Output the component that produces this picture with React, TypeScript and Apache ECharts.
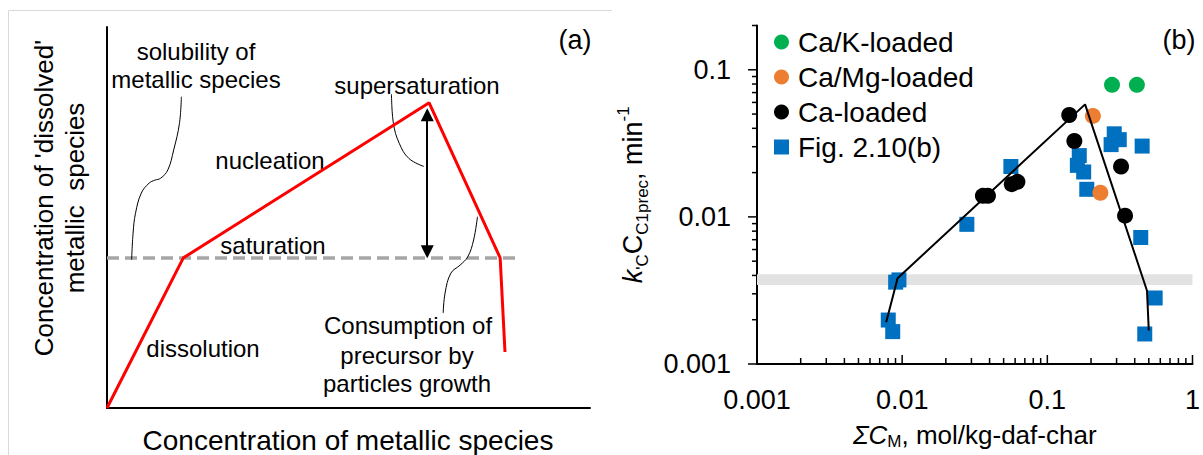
import React, { useEffect, useRef } from 'react';
import * as echarts from 'echarts';

const FONT = "'Liberation Sans', Arial, Helvetica, sans-serif";

// ---------- Panel (a): schematic concentration profile (arbitrary units, 0–100) ----------
const profileX = [0, 15.8, 66.7, 81.4, 82.4];
const profileY = [0, 39.4, 80.1, 39.4, 14.7];
const saturationLevel = 39.4;
const saturationSpan = [0, 85.1];
const supersatArrowX = 66.3;
const supersatArrowEnds = [41.0, 77.0];

// thin leader lines from the annotations to the curve
const solubilityLeaderX = [15.4, 15.0, 13.8, 12.6, 11.1, 9.9, 8.7, 7.1, 5.9, 5.4, 5.1];
const solubilityLeaderY = [81.7, 74.7, 67.7, 62.5, 60.3, 59.8, 59.0, 56.4, 51.1, 45.9, 38.9];
const supersatLeaderX = [58.9, 59.3, 60.5, 62.5, 65.6];
const supersatLeaderY = [82.4, 74.7, 69.5, 65.5, 63.4];
const consumptionLeaderX = [69.6, 70.0, 71.2, 73.1, 74.7, 75.9, 76.7];
const consumptionLeaderY = [24.9, 30.2, 35.4, 37.5, 39.7, 44.1, 50.2];

// ---------- Panel (b): rate vs. total metal concentration ----------
const caKX = [0.279, 0.414];
const caKY = [0.079, 0.079];
const caMgX = [0.206, 0.232];
const caMgY = [0.0486, 0.0146];
const caX = [0.036, 0.039, 0.0569, 0.0622, 0.1415, 0.1535, 0.322, 0.343];
const caY = [0.0139, 0.0139, 0.0167, 0.0173, 0.0493, 0.0328, 0.022, 0.0102];
const figX = [0.00802, 0.00861, 0.00902, 0.0095, 0.0279, 0.0561, 0.161, 0.166, 0.178, 0.187, 0.275, 0.289, 0.313, 0.45, 0.44, 0.553, 0.469];
const figY = [0.00199, 0.00166, 0.0036, 0.00373, 0.0089, 0.022, 0.0224, 0.0261, 0.0202, 0.0154, 0.031, 0.0367, 0.0335, 0.0303, 0.00724, 0.00281, 0.0016];
const trendX = [0.00776, 0.0093, 0.182, 0.486, 0.5];
const trendY = [0.00192, 0.00383, 0.0582, 0.00315, 0.00169];
const bandRange = [0.00345, 0.00407];

const xRangeB = [0.001, 1];
const yRangeB = [0.001, 0.2];
const xMajorTicks = [0.001, 0.01, 0.1, 1];
const xMinorTicks = [
  0.002, 0.003, 0.004, 0.005, 0.006, 0.007, 0.008, 0.009,
  0.02, 0.03, 0.04, 0.05, 0.06, 0.07, 0.08, 0.09,
  0.2, 0.3, 0.4, 0.5, 0.6, 0.7, 0.8, 0.9,
];
const yMajorTicks = [0.001, 0.01, 0.1];
const yMinorTicks = [
  0.002, 0.003, 0.004, 0.005, 0.006, 0.007, 0.008, 0.009,
  0.02, 0.03, 0.04, 0.05, 0.06, 0.07, 0.08, 0.09,
  0.2,
];

const zip = (xs: number[], ys: number[]) => xs.map((x, i) => [x, ys[i]]);

const decadeLabel = (v: number) => {
  const e = Math.log10(v);
  const r = Math.round(e);
  return Math.abs(e - r) < 1e-6 ? String(Number(Math.pow(10, r).toPrecision(1))) : '';
};

function leader(xs: number[], ys: number[]) {
  return {
    type: 'line',
    xAxisIndex: 0,
    yAxisIndex: 0,
    data: zip(xs, ys),
    smooth: 0.4,
    symbol: 'none',
    lineStyle: { color: '#000', width: 1 },
    z: 2,
    silent: true,
  };
}

function textEl(text: string, x: number, y: number, fontSize: number, extra: any = {}) {
  return {
    type: 'text',
    x,
    y,
    silent: true,
    ...extra,
    style: {
      text,
      fontSize,
      fontFamily: FONT,
      fill: '#000',
      align: 'center',
      verticalAlign: 'middle',
      ...(extra.style || {}),
    },
  };
}

function buildOption(): any {
  const labelA = 24;
  const bFont = 27;

  const xTickData = [
    ...xMajorTicks.map((v) => [v, yRangeB[0], 1]),
    ...xMinorTicks.map((v) => [v, yRangeB[0], 0]),
  ];
  const yTickData = [
    ...yMajorTicks.map((v) => [xRangeB[0], v, 1]),
    ...yMinorTicks.map((v) => [xRangeB[0], v, 0]),
  ];

  const scatterBase = {
    type: 'scatter',
    xAxisIndex: 1,
    yAxisIndex: 1,
    z: 3,
  };

  return {
    animation: false,
    backgroundColor: '#fff',
    textStyle: { fontFamily: FONT },
    grid: [
      { left: 107, top: 27, width: 483, height: 381 },
      { left: 757, top: 25.5, width: 436, height: 346.2 },
    ],
    xAxis: [
      {
        gridIndex: 0,
        type: 'value',
        min: 0,
        max: 100,
        axisLine: { onZero: false, lineStyle: { color: '#000', width: 2 } },
        axisTick: { show: false },
        axisLabel: { show: false },
        splitLine: { show: false },
      },
      {
        gridIndex: 1,
        type: 'log',
        logBase: 10,
        min: xRangeB[0],
        max: xRangeB[1],
        axisLine: { onZero: false, lineStyle: { color: '#000', width: 2 } },
        axisTick: { show: false },
        splitLine: { show: false },
        axisLabel: {
          formatter: decadeLabel,
          fontSize: bFont,
          fontFamily: FONT,
          color: '#000',
          margin: 22,
          showMinLabel: true,
          showMaxLabel: true,
        },
        name: '{it|ΣC}{sb|M}{rm|, mol/kg-daf-char}',
        nameLocation: 'middle',
        nameGap: 56,
        nameTextStyle: {
          color: '#000',
          fontFamily: FONT,
          fontSize: 26,
          rich: {
            it: { fontSize: 26, fontStyle: 'italic', fontFamily: FONT, color: '#000', lineHeight: 30 },
            rm: { fontSize: 26, fontFamily: FONT, color: '#000', lineHeight: 30 },
            sb: { fontSize: 17, fontFamily: FONT, color: '#000', lineHeight: 14, verticalAlign: 'bottom' },
          },
        },
      },
    ],
    yAxis: [
      {
        gridIndex: 0,
        type: 'value',
        min: 0,
        max: 100,
        axisLine: { show: true, onZero: false, lineStyle: { color: '#000', width: 2 } },
        axisTick: { show: false },
        axisLabel: { show: false },
        splitLine: { show: false },
      },
      {
        gridIndex: 1,
        type: 'log',
        logBase: 10,
        min: yRangeB[0],
        max: yRangeB[1],
        axisLine: { show: true, onZero: false, lineStyle: { color: '#000', width: 2 } },
        axisTick: { show: false },
        splitLine: { show: false },
        axisLabel: {
          formatter: decadeLabel,
          fontSize: bFont,
          fontFamily: FONT,
          color: '#000',
          margin: 26,
        },
        name: "{it|k}{sb|'C}{rm|C}{sb|C1prec}{rm|, min}{sp|-1}",
        nameLocation: 'middle',
        nameRotate: 90,
        nameGap: 106,
        nameTextStyle: {
          color: '#000',
          fontFamily: FONT,
          fontSize: 27,
          rich: {
            it: { fontSize: 27, fontStyle: 'italic', fontFamily: FONT, color: '#000', lineHeight: 36 },
            rm: { fontSize: 27, fontFamily: FONT, color: '#000', lineHeight: 36 },
            sb: { fontSize: 17, fontFamily: FONT, color: '#000', lineHeight: 14, verticalAlign: 'bottom' },
            sp: { fontSize: 17, fontFamily: FONT, color: '#000', lineHeight: 17, verticalAlign: 'top' },
          },
        },
      },
    ],
    legend: {
      data: ['Ca/K-loaded', 'Ca/Mg-loaded', 'Ca-loaded', 'Fig. 2.10(b)'],
      orient: 'vertical',
      left: 769,
      top: 23,
      itemWidth: 15,
      itemHeight: 15,
      itemGap: 7,
      selectedMode: false,
      textStyle: {
        fontSize: 28,
        fontFamily: FONT,
        color: '#000',
        lineHeight: 28,
        padding: [0, 0, 0, 4],
      },
    },
    series: [
      // ----- panel (a) -----
      {
        type: 'line',
        xAxisIndex: 0,
        yAxisIndex: 0,
        data: [
          [saturationSpan[0], saturationLevel],
          [saturationSpan[1], saturationLevel],
        ],
        symbol: 'none',
        lineStyle: { color: '#a6a6a6', width: 3.5, type: [12, 6] },
        z: 1,
        silent: true,
      },
      {
        type: 'line',
        xAxisIndex: 0,
        yAxisIndex: 0,
        data: zip(profileX, profileY),
        symbol: 'none',
        lineStyle: { color: '#ff0000', width: 3 },
        z: 3,
        silent: true,
      },
      leader(solubilityLeaderX, solubilityLeaderY),
      leader(supersatLeaderX, supersatLeaderY),
      leader(consumptionLeaderX, consumptionLeaderY),
      {
        type: 'lines',
        coordinateSystem: 'cartesian2d',
        xAxisIndex: 0,
        yAxisIndex: 0,
        symbol: ['triangle', 'triangle'],
        symbolSize: 13,
        lineStyle: { color: '#000', width: 2, opacity: 1 },
        data: [
          {
            coords: [
              [supersatArrowX, supersatArrowEnds[0]],
              [supersatArrowX, supersatArrowEnds[1]],
            ],
          },
        ],
        z: 4,
        silent: true,
      },
      // ----- panel (b) -----
      {
        type: 'line',
        xAxisIndex: 1,
        yAxisIndex: 1,
        data: [],
        symbol: 'none',
        z: 1,
        silent: true,
        markArea: {
          silent: true,
          itemStyle: { color: '#e2e2e2' },
          data: [[{ yAxis: bandRange[0] }, { yAxis: bandRange[1] }]],
        },
      },
      {
        type: 'custom',
        xAxisIndex: 1,
        yAxisIndex: 1,
        data: xTickData,
        clip: false,
        silent: true,
        z: 5,
        renderItem: (params: any, api: any) => {
          const p = api.coord([api.value(0), api.value(1)]);
          const len = api.value(2) === 1 ? 9 : 6;
          return {
            type: 'line',
            shape: { x1: p[0], y1: p[1], x2: p[0], y2: p[1] - len },
            style: { stroke: '#000', lineWidth: 1.5 },
          };
        },
      },
      {
        type: 'custom',
        xAxisIndex: 1,
        yAxisIndex: 1,
        data: yTickData,
        clip: false,
        silent: true,
        z: 5,
        renderItem: (params: any, api: any) => {
          const p = api.coord([api.value(0), api.value(1)]);
          const len = api.value(2) === 1 ? 9 : 5;
          return {
            type: 'line',
            shape: { x1: p[0] - len, y1: p[1], x2: p[0], y2: p[1] },
            style: { stroke: '#000', lineWidth: 1.5 },
          };
        },
      },
      {
        ...scatterBase,
        name: 'Fig. 2.10(b)',
        symbol: 'rect',
        symbolSize: 15,
        itemStyle: { color: '#0070c0', opacity: 1 },
        data: zip(figX, figY),
        z: 2,
      },
      {
        ...scatterBase,
        name: 'Ca-loaded',
        symbol: 'circle',
        symbolSize: 16,
        itemStyle: { color: '#000000', opacity: 1 },
        data: zip(caX, caY),
      },
      {
        ...scatterBase,
        name: 'Ca/Mg-loaded',
        symbol: 'circle',
        symbolSize: 16,
        itemStyle: { color: '#ed7d31', opacity: 1 },
        data: zip(caMgX, caMgY),
      },
      {
        ...scatterBase,
        name: 'Ca/K-loaded',
        symbol: 'circle',
        symbolSize: 16,
        itemStyle: { color: '#00b050', opacity: 1 },
        data: zip(caKX, caKY),
      },
      {
        type: 'line',
        xAxisIndex: 1,
        yAxisIndex: 1,
        data: zip(trendX, trendY),
        symbol: 'none',
        lineStyle: { color: '#000', width: 2 },
        z: 4,
        silent: true,
      },
    ],
    graphic: [
      {
        type: 'polyline',
        silent: true,
        shape: { points: [[612, 10.5], [8.5, 10.5], [8.5, 455]] },
        style: { stroke: '#d9d9d9', lineWidth: 1, fill: 'none' },
      },
      textEl('solubility of', 196, 51, labelA),
      textEl('metallic species', 196, 79, labelA),
      textEl('supersaturation', 417, 85, labelA),
      textEl('nucleation', 270, 160, labelA),
      textEl('saturation', 273, 245, labelA),
      textEl('dissolution', 203, 348, labelA),
      textEl('Consumption of', 408, 325, labelA),
      textEl('precursor by', 407, 355, labelA),
      textEl('particles growth', 407, 383, labelA),
      textEl('(a)', 575, 40, 27),
      textEl('Concentration of metallic species', 348, 440, 28),
      textEl("Concentration of 'dissolved'\nmetallic  species", 59, 198, 26, {
        rotation: Math.PI / 2,
        style: { lineHeight: 31 },
      }),
      textEl('(b)', 1179, 40, 27),
    ],
  };
}

export default function App() {
  const ref = useRef<HTMLDivElement>(null);
  useEffect(() => {
    const el = ref.current;
    if (!el) return;
    const chart = echarts.init(el, undefined, { renderer: 'svg' });
    chart.setOption(buildOption());
    return () => chart.dispose();
  }, []);
  return (
    <div
      ref={ref}
      style={{ position: 'fixed', left: 0, top: 0, width: 1203, height: 455, background: '#fff' }}
    />
  );
}
